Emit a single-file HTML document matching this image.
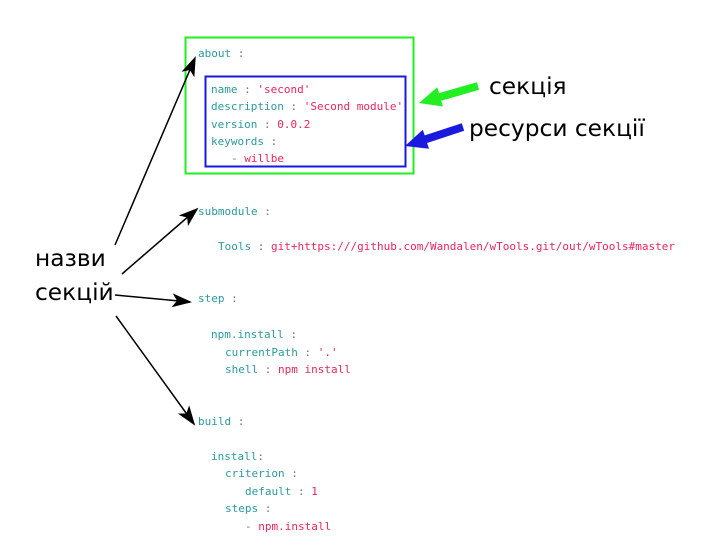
<!DOCTYPE html>
<html><head><meta charset="utf-8"><style>
html,body{margin:0;padding:0;background:#fff;width:703px;height:550px;overflow:hidden}
svg{display:block}
.m{font-family:"DejaVu Sans Mono","Liberation Mono",monospace;font-size:11px}
.k{fill:#2b9a9e}.v{fill:#e8265a}.c{fill:#777}
.t{font-family:"DejaVu Sans","Liberation Sans",sans-serif;font-size:23.3px;fill:#000}
</style></head><body>
<svg width="703" height="550" viewBox="0 0 703 550" xmlns="http://www.w3.org/2000/svg">
<defs><marker id="a" markerWidth="20" markerHeight="14" refX="18" refY="7" orient="auto" markerUnits="userSpaceOnUse"><path d="M0,0 L20,7 L0,14 L5,7 z" fill="#000"/></marker></defs>
<rect x="185.5" y="37.5" width="228" height="136" fill="none" stroke="#22ee22" stroke-width="2"/>
<rect x="205.5" y="76.5" width="200" height="90" fill="none" stroke="#1a1adf" stroke-width="2"/>
<g class="m">
<text x="198" y="57"><tspan class="k">about</tspan><tspan class="c"> :</tspan></text>
<text x="211" y="93"><tspan class="k">name</tspan><tspan class="c"> : </tspan><tspan class="v">'second'</tspan></text>
<text x="211" y="110"><tspan class="k">description</tspan><tspan class="c"> : </tspan><tspan class="v">'Second module'</tspan></text>
<text x="211" y="128"><tspan class="k">version</tspan><tspan class="c"> : </tspan><tspan class="v">0.0.2</tspan></text>
<text x="211" y="145"><tspan class="k">keywords</tspan><tspan class="c"> :</tspan></text>
<text x="231" y="162"><tspan class="c">- </tspan><tspan class="v">willbe</tspan></text>
<text x="198" y="215"><tspan class="k">submodule</tspan><tspan class="c"> :</tspan></text>
<text x="218" y="250"><tspan class="k">Tools</tspan><tspan class="c"> : </tspan><tspan class="v">git+https:///github.com/Wandalen/wTools.git/out/wTools#master</tspan></text>
<text x="198" y="302"><tspan class="k">step</tspan><tspan class="c"> :</tspan></text>
<text x="211" y="338"><tspan class="k">npm.install</tspan><tspan class="c"> :</tspan></text>
<text x="225" y="356"><tspan class="k">currentPath</tspan><tspan class="c"> : </tspan><tspan class="v">'.'</tspan></text>
<text x="225" y="373"><tspan class="k">shell</tspan><tspan class="c"> : </tspan><tspan class="v">npm install</tspan></text>
<text x="198" y="425"><tspan class="k">build</tspan><tspan class="c"> :</tspan></text>
<text x="211" y="460"><tspan class="k">install</tspan><tspan class="c">:</tspan></text>
<text x="225" y="477"><tspan class="k">criterion</tspan><tspan class="c"> :</tspan></text>
<text x="245" y="495"><tspan class="k">default</tspan><tspan class="c"> : </tspan><tspan class="v">1</tspan></text>
<text x="225" y="512"><tspan class="k">steps</tspan><tspan class="c"> :</tspan></text>
<text x="245" y="530"><tspan class="c">- </tspan><tspan class="v">npm.install</tspan></text>
</g>
<text class="t" x="35" y="266">назви</text>
<text class="t" x="35" y="300">секцій</text>
<text class="t" x="489" y="94">секція</text>
<text class="t" x="469" y="136">ресурси секції</text>
<g stroke="#000" stroke-width="1.5" fill="none" marker-end="url(#a)">
<line x1="115" y1="245" x2="195" y2="58"/>
<line x1="122" y1="274" x2="197" y2="209"/>
<line x1="115" y1="295" x2="190" y2="302"/>
<line x1="116" y1="316" x2="194" y2="424"/>
</g>
<polygon fill="#22ee22" points="419,103 442.9,106.5 441.2,100.7 479.1,89.8 476.9,82.2 439,93.1 437.3,87.3"/>
<polygon fill="#1a1adf" points="405,146 429,148.7 427.1,143 464.2,130.8 461.8,123.2 424.7,135.4 422.8,129.7"/>
</svg>
</body></html>
